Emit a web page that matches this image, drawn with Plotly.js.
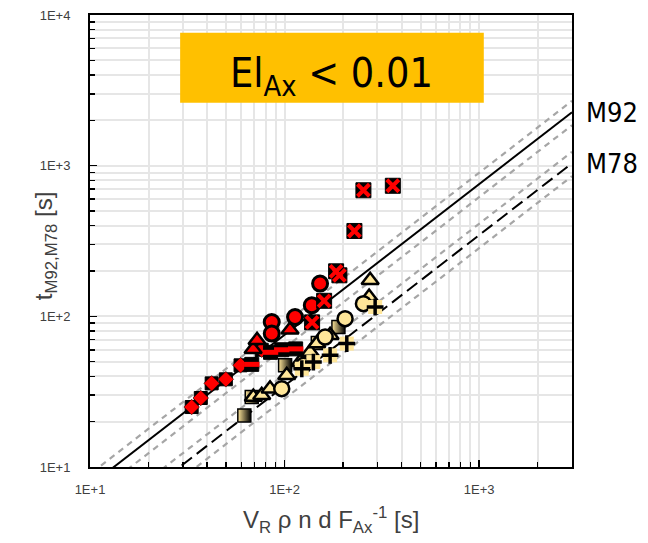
<!DOCTYPE html>
<html><head><meta charset="utf-8">
<script src="https://cdn.plot.ly/plotly-3.0.1.min.js"></script>
<style>html,body{margin:0;padding:0;background:#fff}</style>
</head><body><div id="chart" style="width:648px;height:543px"></div>
<script>
// ---- data ----
const redDiamondX = [33.3, 37.1, 42.2, 49.9, 59.4, 76.3];
const redDiamondY = [25.0, 28.7, 35.9, 38.2, 47.3, 60.0];
const redDashX = [67.8, 84.7, 96.7, 114.0];
const redDashY = [48.0, 57.7, 60.0, 60.8];
const redTriX = [68.9, 72.2, 106.7];
const redTriY = [60.4, 69.3, 81.4];
const redCircX = [85.9, 85.9, 113.2, 138.0, 152.2];
const redCircY = [91.7, 76.8, 98.9, 118.3, 164.9];
const redCrossX = [138.5, 159.7, 184.0, 191.3, 228.5, 254.2, 360.0];
const redCrossY = [91.2, 126.8, 199.0, 187.2, 368.6, 686.6, 735.4];

const yelSqX = [62.1, 67.8, 100.6, 148.2, 189.1];
const yelSqY = [22.0, 29.1, 47.3, 66.5, 84.9];
const yelTriX = [69.1, 76.3, 84.2, 102.6, 120.1, 135.3, 146.4, 171.4, 275.3, 271.9];
const yelTriY = [29.1, 29.9, 33.1, 40.6, 49.7, 57.9, 65.9, 74.8, 173.4, 134.4];
const yelCircX = [96.7, 125.0, 161.6, 204.6, 254.2];
const yelCircY = [33.1, 47.3, 72.9, 96.5, 121.4];
const yelPlusX = [122.6, 140.6, 171.4, 208.8, 292.0];
const yelPlusY = [44.9, 49.7, 55.1, 65.9, 115.3];

// model lines t = k * x, with scatter band
const modelNames = ['M92', 'M78'];
const modelK = [0.754, 0.346];
const bandUp = 1.19;
const bandLo = 0.82;
const xAxisMin = 10, xAxisMax = 3000;

const tickVals = [10, 100, 1000, 10000];
const tickText = ['1E+1', '1E+2', '1E+3', '1E+4'];

// ---- build ----
const red = '#ff0000', yel = '#ffe699', blk = '#000000';
const lineX = [xAxisMin / 2, xAxisMax];
const traces = [];
modelK.forEach((k, i) => {
  [bandUp, bandLo].forEach(f => traces.push({
    x: lineX, y: lineX.map(v => v * k * f), mode: 'lines', hoverinfo: 'skip',
    line: {color: '#a6a6a6', width: 2.2, dash: '6px,5px'}
  }));
  traces.push({
    x: lineX, y: lineX.map(v => v * k), mode: 'lines', name: modelNames[i],
    line: {color: blk, width: 2, dash: i === 0 ? 'solid' : '13px,6px'}
  });
});
function pts(x, y, symbol, size, color, lc, lw, extra) {
  const m = {symbol, size, color, line: {color: lc, width: lw}};
  if (extra) Object.assign(m, extra);
  return {x, y, mode: 'markers', cliponaxis: false, marker: m};
}
// yellow group
traces.push(pts(yelSqX, yelSqY, 'square', 13, yel, blk, 1.5, {gradient: {type: 'horizontal', color: blk}}));
traces.push(pts(yelTriX, yelTriY, 'triangle-up', 15, yel, blk, 2.5));
traces.push(pts(yelCircX, yelCircY, 'circle', 15, yel, blk, 2.5));
traces.push(pts(yelPlusX, yelPlusY, 'square', 14, yel, yel, 0));
traces.push(pts(yelPlusX, yelPlusY, 'cross-thin', 12, blk, blk, 3.5));
// red group
traces.push(pts(redDiamondX, redDiamondY, 'square', 13, blk, blk, 1));
traces.push(pts(redDiamondX, redDiamondY, 'diamond', 12, red, blk, 0.5));
traces.push(pts(redDashX, redDashY, 'square', 14, blk, blk, 1));
traces.push(pts(redDashX, redDashY, 'line-ew', 11, red, red, 5));
traces.push(pts(redTriX, redTriY, 'triangle-up', 15, red, blk, 2.5));
traces.push(pts(redCircX, redCircY, 'circle', 15, red, blk, 3));
traces.push(pts(redCrossX, redCrossY, 'square', 15, blk, blk, 1));
traces.push(pts(redCrossX, redCrossY, 'x-thin', 12, red, red, 4));

const minorVals = [];
for (let e = 1; e < 4; e++) for (let d = 2; d <= 9; d++) minorVals.push(d * Math.pow(10, e));

const gridC = '#e6e6e6';
const axisCommon = {
  type: 'log', showline: true, linecolor: blk, linewidth: 2, mirror: true,
  ticks: 'inside', ticklen: 7, tickwidth: 1.5, tickcolor: blk,
  tickmode: 'array', tickvals: tickVals, ticktext: tickText,
  showgrid: true, gridcolor: gridC, gridwidth: 2, zeroline: false,
  tickfont: {family: 'Liberation Sans, Arial, sans-serif', size: 13, color: '#404040'},
  minor: {tickmode: 'array', tickvals: minorVals, ticks: 'inside', ticklen: 5, tickwidth: 1.5,
          tickcolor: blk, showgrid: true, gridcolor: gridC, gridwidth: 2}
};
const titleFont = {family: 'Liberation Sans, Arial, sans-serif', size: 24, color: '#404040'};
const layout = {
  width: 648, height: 543, showlegend: false,
  margin: {l: 90, r: 76, t: 15, b: 76},
  paper_bgcolor: '#fff', plot_bgcolor: '#fff',
  xaxis: Object.assign({}, axisCommon, {
    range: [Math.log10(xAxisMin), Math.log10(xAxisMax)], ticklabelstandoff: 9
  }),
  yaxis: Object.assign({}, axisCommon, {
    range: [1, 4], ticklabelstandoff: 15
  }),
  shapes: [{type: 'rect', xref: 'paper', yref: 'paper', x0: 0.187, x1: 0.817, y0: 0.806, y1: 0.961,
    fillcolor: '#ffc000', line: {width: 0}}],
  annotations: [
    {xref: 'paper', yref: 'paper', x: 0.501, y: 0.93, showarrow: false,
     text: 'El<sub>Ax</sub> &lt; 0.01',
     font: {family: 'DejaVu Sans Condensed, Tahoma, sans-serif', size: 41, color: blk}},
    {xref: 'paper', yref: 'paper', x: 0.5, y: -0.118, yanchor: 'middle', showarrow: false,
     text: 'V<sub>R</sub> ρ n d F<sub>Ax</sub><sup>-1</sup> [s]', font: titleFont},
    {xref: 'paper', yref: 'paper', x: -0.127, y: 0.489, showarrow: false, textangle: -90,
     text: 't<sub>M92,M78</sub> [s]', font: titleFont}
  ].concat(modelK.map((k, i) => ({
     xref: 'paper', yref: 'y', x: 1.025, xanchor: 'left', y: Math.log10(k * xAxisMax),
     showarrow: false, text: modelNames[i],
     font: {family: 'DejaVu Sans Condensed, Tahoma, sans-serif', size: 27, color: blk}})))
};
Plotly.newPlot('chart', traces, layout, {staticPlot: true});
</script></body></html>
